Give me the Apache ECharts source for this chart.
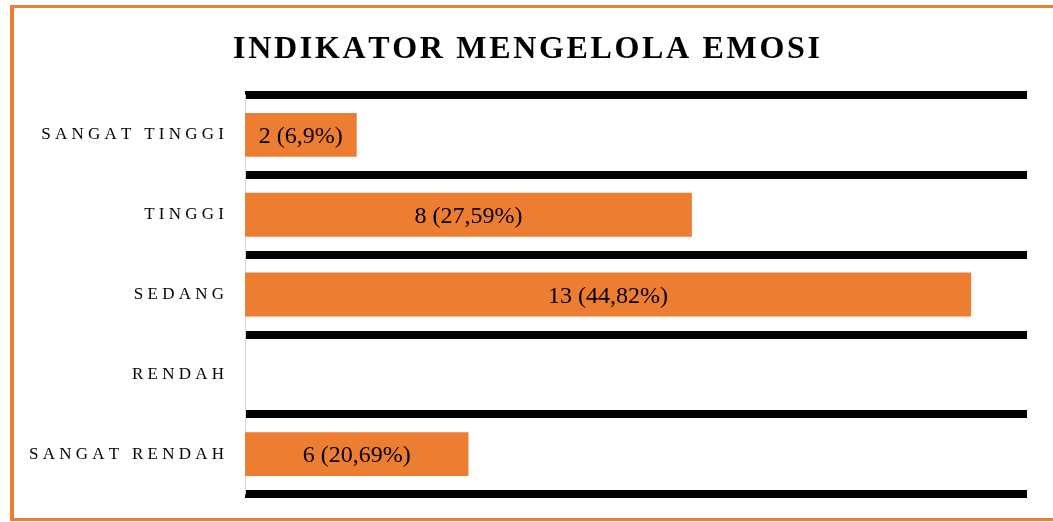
<!DOCTYPE html>
<html>
<head>
<meta charset="utf-8">
<script src="https://cdn.jsdelivr.net/npm/echarts@6/dist/echarts.min.js"></script>
<style>
  html, body { margin: 0; padding: 0; background: #fff; overflow: hidden; }
  #frame {
    position: absolute; left: 10px; top: 5px; width: 1100px; height: 516px;
    box-sizing: border-box; border: 3px solid #ED7D31; border-left-width: 4px;
  }
  #chart { position: absolute; left: 0; top: 0; width: 1053px; height: 522px; }
</style>
</head>
<body>
<div id="frame"></div>
<div id="chart"></div>
<script>
// categories, bottom to top
const categories = ['SANGAT RENDAH', 'RENDAH', 'SEDANG', 'TINGGI', 'SANGAT TINGGI']
// counts written in the labels
const counts = [6, 0, 13, 8, 2]
const percents = ['20,69', '', '44,82', '27,59', '6,9']
// bar lengths as drawn in the picture
const barLengths = [4, 0, 13, 8, 2]

const titleText = 'INDIKATOR MENGELOLA EMOSI'

// fake letter spacing with narrow unicode spaces
function spaced(s, sep) {
  return s.split('').join(sep)
}

const chart = echarts.init(document.getElementById('chart'), null, { renderer: 'canvas' })

const option = {
  backgroundColor: 'transparent',
  animation: false,
  title: {
    text: spaced(titleText, '\u200A'),
    left: 'center',
    top: 29,
    textStyle: {
      fontFamily: 'Liberation Serif',
      fontWeight: 'bold',
      fontSize: 32,
      color: '#000'
    }
  },
  grid: {
    left: 245,
    right: 26,
    top: 95,
    bottom: 28
  },
  xAxis: {
    type: 'value',
    min: 0,
    max: 14,
    show: false,
    splitLine: { show: false }
  },
  yAxis: {
    type: 'category',
    data: categories,
    axisLine: { show: true, lineStyle: { color: '#d9d9d9', width: 1 } },
    axisTick: { show: false },
    axisLabel: {
      margin: 21,
      fontFamily: 'Liberation Serif',
      fontSize: 17,
      color: '#000',
      formatter: v => spaced(v, '\u2005')
    },
    splitLine: {
      show: true,
      lineStyle: { color: '#000', width: 8 }
    }
  },
  series: [{
    type: 'bar',
    data: barLengths,
    barWidth: '55%',
    itemStyle: { color: '#ED7D31' },
    label: {
      show: true,
      position: 'inside',
      offset: [0, 2],
      fontFamily: 'Liberation Serif',
      fontSize: 24,
      color: '#000',
      formatter: p => counts[p.dataIndex] ? counts[p.dataIndex] + ' (' + percents[p.dataIndex] + '%)' : ''
    }
  }]
}

chart.setOption(option)
</script>
</body>
</html>
